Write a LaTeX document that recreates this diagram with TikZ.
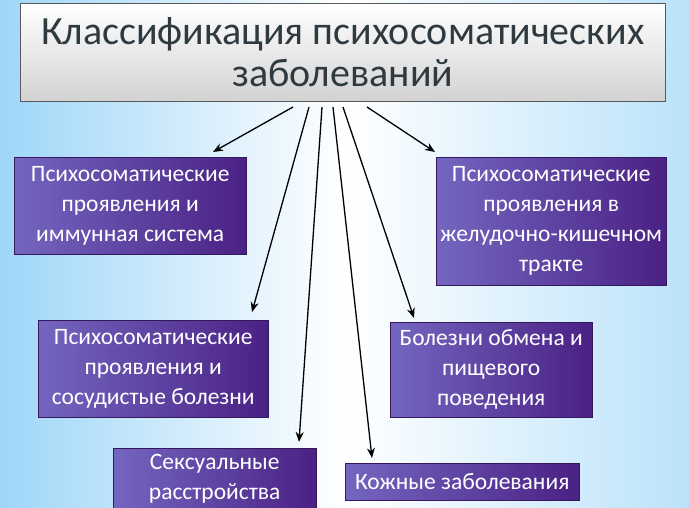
\documentclass[tikz,border=0pt]{standalone}
\usepackage{fontspec}
\setmainfont{Carlito}
\usetikzlibrary{arrows.meta}
\definecolor{bgb}{HTML}{9ED6F8}
\definecolor{pl}{HTML}{7466C0}
\definecolor{pd}{HTML}{4A2184}
\definecolor{tt}{HTML}{2E3A40}
\tikzset{
 cat/.style={draw=pd!70!black, line width=0.4pt, left color=pl, right color=pd, text=white, font=\fontsize{23.5}{30}\selectfont, align=center, inner sep=0pt, anchor=north west},
 arr/.style={-{Stealth[length=10pt,width=8pt]}, line width=1.3pt, black}
}
\begin{document}
\begin{tikzpicture}[x=1pt,y=-1pt]
\path[use as bounding box, left color=bgb, right color=bgb!70, middle color=white] (0,0) rectangle (689,507);
\node[draw=gray!70!black, top color=white, bottom color=gray!35, minimum width=645pt, minimum height=98pt, anchor=north west, inner sep=0pt, align=center, text=tt, font=\fontsize{40}{42}\selectfont] (title) at (20,3) {Классификация психосоматических\\заболеваний};
\node[cat, minimum width=232pt, minimum height=97pt] (b1) at (14,157) {Психосоматические\\проявления и\\иммунная система};
\node[cat, minimum width=230pt, minimum height=128pt] (b2) at (436,157) {Психосоматические\\проявления в\\желудочно-кишечном\\тракте};
\node[cat, minimum width=230pt, minimum height=97pt] (b3) at (38,320) {Психосоматические\\проявления и\\сосудистые болезни};
\node[cat, minimum width=202pt, minimum height=95pt] (b4) at (390,322) {Болезни обмена и\\пищевого\\поведения};
\node[cat, minimum width=203pt, minimum height=62pt, anchor=north west] (b5) at (113,448) {Сексуальные\\расстройства};
\node[cat, minimum width=234pt, minimum height=37pt] (b6) at (345,463) {Кожные заболевания};
\coordinate (s1) at (293,107); \coordinate (e1) at (213,152);
\coordinate (s2) at (309,107); \coordinate (e2) at (252,312);
\coordinate (s3) at (322,107); \coordinate (e3) at (299,442);
\coordinate (s4) at (333,107); \coordinate (e4) at (372,458);
\coordinate (s5) at (343,107); \coordinate (e5) at (414,318);
\coordinate (s6) at (367,107); \coordinate (e6) at (435,152);
\foreach \i in {1,...,6} \draw[arr] (s\i) -- (e\i);
\end{tikzpicture}
\end{document}
